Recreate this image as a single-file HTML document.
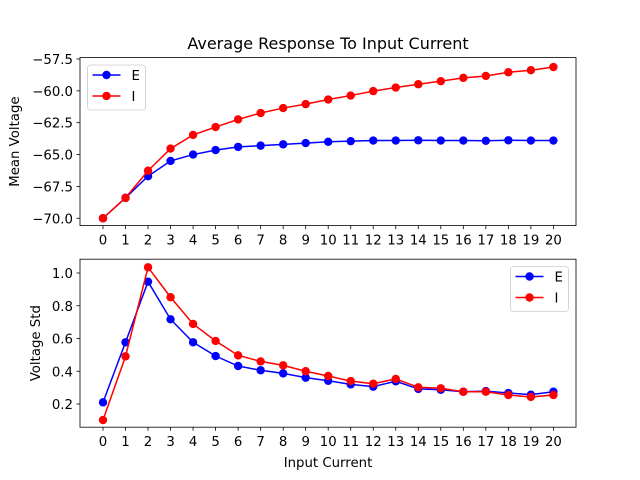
<!DOCTYPE html>
<html><head><meta charset="utf-8"><style>
body{margin:0;background:#fff}
svg{display:block;font-family:"DejaVu Sans","Liberation Sans",sans-serif}
</style></head><body>
<svg id="c" width="640" height="480"></svg>
<script>
const categories=[0,1,2,3,4,5,6,7,8,9,10,11,12,13,14,15,16,17,18,19,20];
const meanE=[-70,-68.4,-66.7,-65.5,-65.0,-64.65,-64.4,-64.3,-64.2,-64.1,-64.0,-63.95,-63.9,-63.9,-63.88,-63.9,-63.9,-63.92,-63.88,-63.9,-63.9];
const meanI=[-70,-68.4,-66.27,-64.53,-63.46,-62.84,-62.24,-61.74,-61.35,-61.04,-60.68,-60.37,-60.02,-59.74,-59.48,-59.24,-58.98,-58.83,-58.54,-58.38,-58.13];
const stdE=[0.21,0.577,0.947,0.717,0.577,0.493,0.432,0.406,0.387,0.361,0.342,0.32,0.306,0.339,0.292,0.287,0.275,0.279,0.267,0.257,0.275];
const stdI=[0.102,0.491,1.035,0.852,0.689,0.585,0.497,0.46,0.436,0.4,0.371,0.34,0.324,0.353,0.302,0.296,0.275,0.275,0.255,0.243,0.255];
const topTicks=[-70.0,-67.5,-65.0,-62.5,-60.0,-57.5];
const botTicks=[0.2,0.4,0.6,0.8,1.0];
const NS="http://www.w3.org/2000/svg";
const svg=document.getElementById('c');
function mk(t,a,p){const e=document.createElementNS(NS,t);for(const k in a)e.setAttribute(k,a[k]);(p||svg).appendChild(e);return e;}
const X=i=>103+i*22.52;
const Yt=v=>59+(-57.5-v)*12.74;
const Yb=v=>273+(1.0-v)*163.75;
function axes(name,top,bot,yf,ticks,fmt,ylabel,ylx,sE,sI,legX,legY){
  const g=mk('g',{});
  
  
  [[sE,'#0000ff','series-e'],[sI,'#ff0000','series-i']].forEach(([s,c,n])=>{
    const sg=mk('g',{},g);
    
    
    mk('polyline',{points:s.map((v,i)=>X(i)+','+yf(v)).join(' '),fill:'none',stroke:c,'stroke-width':1.5},sg);
    s.forEach((v,i)=>{const p=mk('circle',{cx:X(i),cy:yf(v),r:4.2,fill:c},sg);
      
      });
  });
  mk('rect',{x:80,y:top,width:496,height:bot-top,fill:'none',stroke:'#000','stroke-width':0.8},g);
  categories.forEach((c,i)=>{
    mk('line',{x1:X(i),x2:X(i),y1:bot,y2:bot+3.5,stroke:'#000','stroke-width':0.8},g);
    const t=mk('text',{x:X(i),y:bot+19,'font-size':13.3,'text-anchor':'middle'},g);t.textContent=c;
    
    
  });
  ticks.forEach(v=>{
    mk('line',{x1:76.5,x2:80,y1:yf(v),y2:yf(v),stroke:'#000','stroke-width':0.8},g);
    const t=mk('text',{x:73,y:yf(v)+5,'font-size':13.3,'text-anchor':'end'},g);t.textContent=fmt(v).replace('-','\u2212');
    
    
  });
  const yl=mk('text',{x:0,y:0,'font-size':13.3,'text-anchor':'middle',transform:`translate(${ylx},${(top+bot)/2}) rotate(-90)`},g);
  yl.textContent=ylabel;
  
  
  const lg=mk('g',{},g);
  
  
  mk('rect',{x:legX,y:legY,width:58,height:45,rx:3,fill:'#fff',stroke:'#ccc','stroke-width':0.8,'fill-opacity':0.8},lg);
  [['E','#0000ff'],['I','#ff0000']].forEach(([l,c],k)=>{
    const yy=legY+10+k*21;
    const e=mk('g',{},lg);
    
    
    mk('line',{x1:legX+5,x2:legX+33,y1:yy,y2:yy,stroke:c,'stroke-width':1.5},e);
    mk('circle',{cx:legX+19,cy:yy,r:4.2,fill:c},e);
    const t=mk('text',{x:legX+44,y:yy+5,'font-size':13.3},e);t.textContent=l;
  });
}
axes('top-panel',57.6,225.6,Yt,topTicks,v=>v.toFixed(1),'Mean Voltage',19,meanE,meanI,87.5,65);
axes('bottom-panel',259.2,427.2,Yb,botTicks,v=>v.toFixed(1),'Voltage Std',40,stdE,stdI,510.5,266.5);
const ti=mk('text',{x:328,y:49,'font-size':16,'text-anchor':'middle'});ti.textContent='Average Response To Input Current';


const xl=mk('text',{x:328,y:467,'font-size':13.3,'text-anchor':'middle'});xl.textContent='Input Current';


</script>
</body></html>
